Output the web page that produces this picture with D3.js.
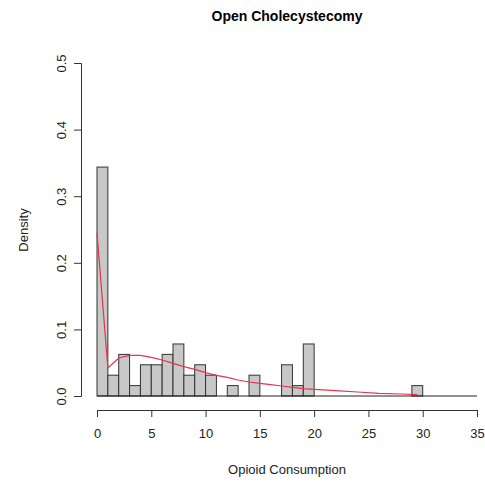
<!DOCTYPE html>
<html><head><meta charset="utf-8">
<script src="https://cdn.jsdelivr.net/npm/d3@7"></script>
<style>body{margin:0;background:#fff}svg text{font-family:"Liberation Sans",Arial,sans-serif}</style>
</head><body><svg id="c" width="485" height="486"></svg>
<script>
const binStarts = d3.range(0, 30);
const binDensity = [0.34375,0.03125,0.0625,0.015625,0.046875,0.046875,0.0625,0.078125,0.03125,0.046875,0.03125,0,0.015625,0,0.03125,0,0,0.046875,0.015625,0.078125,0,0,0,0,0,0,0,0,0,0.015625];
const curveX = [0,1,2,3,4,5,6,7,8,9,10,11,12,13,14,15,16,17,18,19,20,22,24,26,28,29.5];
const curveY = [0.245,0.042,0.057,0.061,0.061,0.058,0.054,0.049,0.044,0.040,0.035,0.031,0.028,0.024,0.021,0.019,0.017,0.015,0.013,0.011,0.010,0.008,0.006,0.004,0.003,0.002];
const xTicks = [0,5,10,15,20,25,30,35];
const yTicks = [0,0.1,0.2,0.3,0.4,0.5];

const svg = d3.select("#c");
const x = d3.scaleLinear().domain([0,35]).range([97,477]);
const y = d3.scaleLinear().domain([0,0.5]).range([396,63]);

svg.append("text").attr("x",287).attr("y",21).attr("text-anchor","middle")
  .attr("font-size",14).attr("font-weight","bold").text("Open Cholecystecomy");

svg.append("g").selectAll("rect").data(binStarts).join("rect")
  .attr("x",d=>x(d)).attr("width",d=>x(d+1)-x(d))
  .attr("y",(d,i)=>y(binDensity[i])).attr("height",(d,i)=>y(0)-y(binDensity[i]))
  .attr("fill",(d,i)=>binDensity[i]>0?"#c8c8c8":"none")
  .attr("stroke",(d,i)=>binDensity[i]>0?"#333":"none").attr("stroke-width",1);

svg.append("line").attr("x1",x(0)).attr("x2",x(35)).attr("y1",y(0)).attr("y2",y(0))
  .attr("stroke","#222").attr("stroke-width",1);

const line = d3.line().x((d,i)=>x(curveX[i])).y(d=>y(d)).curve(d3.curveLinear);
svg.append("path").datum(curveY).attr("d",line).attr("fill","none")
  .attr("stroke","#e8344e").attr("stroke-width",1.2);

const xa = svg.append("g").attr("transform","translate(0,410)")
  .call(d3.axisBottom(x).tickValues(xTicks).tickSize(7).tickPadding(12).tickFormat(d3.format("d")));
xa.select(".domain").attr("stroke","#333");
xa.selectAll(".tick line").attr("stroke","#333");
xa.selectAll("text").attr("font-size",13).attr("fill","#222");

const ya = svg.append("g").attr("transform","translate(81,0)")
  .call(d3.axisLeft(y).tickValues(yTicks).tickSize(7).tickFormat(d3.format(".1f")));
ya.select(".domain").attr("stroke","#333");
ya.selectAll(".tick line").attr("stroke","#333");
ya.selectAll("text").attr("font-size",13).attr("fill","#222")
  .attr("transform","rotate(-90)").attr("x",0).attr("y",-15).attr("dy",0)
  .attr("text-anchor","middle");

svg.append("text").attr("x",287).attr("y",474).attr("text-anchor","middle")
  .attr("font-size",13).attr("fill","#222").text("Opioid Consumption");
svg.append("text").attr("transform","translate(28,230) rotate(-90)").attr("text-anchor","middle")
  .attr("font-size",13).attr("fill","#222").text("Density");
</script></body></html>
